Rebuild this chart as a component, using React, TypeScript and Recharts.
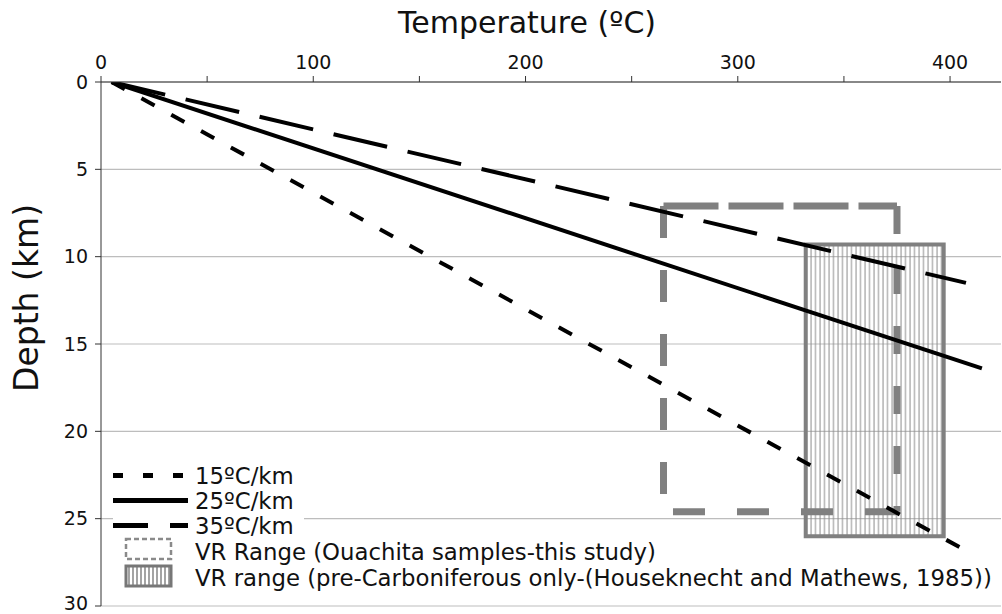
import React from "react";
import {
  ComposedChart,
  Line,
  XAxis,
  YAxis,
  CartesianGrid,
  ReferenceArea,
  ReferenceLine,
  Legend,
} from "recharts";

// geothermal gradients, all starting from a 5 ºC surface
const grad15 = [
  { t: 5, d: 0 },
  { t: 410, d: 27 },
];
const grad25 = [
  { t: 5, d: 0 },
  { t: 415, d: 16.4 },
];
const grad35 = [
  { t: 5, d: 0 },
  { t: 407.5, d: 11.5 },
];

const tempTicks = [0, 50, 100, 150, 200, 250, 300, 350, 400];
const depthTicks = [0, 5, 10, 15, 20, 25, 30];

// VR temperature/depth windows
const ouachitaRange = { tMin: 265, tMax: 375, dMin: 7.1, dMax: 24.6 };
const preCarbRange = { tMin: 332, tMax: 397, dMin: 9.3, dMax: 26 };

const lineNames = ["15ºC/km", "25ºC/km", "35ºC/km"];
const areaNames = [
  "VR Range (Ouachita samples-this study)",
  "VR range (pre-Carboniferous only-(Houseknecht and Mathews, 1985))",
];

const FONT = "'DejaVu Sans', Verdana, sans-serif";
const GRAY = "#808080";
const LEGEND_FS = 22.8;

const legendDash = ["10 20", undefined, "35 22"];

const ChartLegend = () => {
  const top = 450;
  return (
    <svg width={1002} height={150} style={{ overflow: "visible" }}>
      <rect x={113} y={462 - top} width={191} height={78} fill="#fff" />
      {lineNames.map((name, i) => {
        const y = 475.5 + i * 25 - top;
        return (
          <g key={name}>
            <line
              x1={113}
              x2={188}
              y1={y}
              y2={y}
              stroke="#000"
              strokeWidth={5}
              strokeDasharray={legendDash[i]}
            />
            <text
              x={195}
              y={y + 8}
              fontSize={LEGEND_FS}
              fontFamily={FONT}
              fill="#111"
            >
              {name}
            </text>
          </g>
        );
      })}
      <rect
        x={126}
        y={539 - top}
        width={45}
        height={20}
        fill="none"
        stroke="#8a8a8a"
        strokeWidth={2.5}
        strokeDasharray="5 3"
      />
      <text x={195} y={560 - top} fontSize={LEGEND_FS} fontFamily={FONT} fill="#111">
        {areaNames[0]}
      </text>
      <rect
        x={126}
        y={566 - top}
        width={45}
        height={20}
        fill="url(#vrHatchIcon)"
        stroke="#777"
        strokeWidth={3}
      />
      <text x={195} y={586 - top} fontSize={LEGEND_FS} fontFamily={FONT} fill="#111">
        {areaNames[1]}
      </text>
    </svg>
  );
};

const TempLabel = ({ viewBox }: any) => (
  <text
    x={viewBox.x + viewBox.width / 2 - 24}
    y={viewBox.y + 33}
    textAnchor="middle"
    fontSize={30}
    fontFamily={FONT}
    fill="#111"
  >
    Temperature (ºC)
  </text>
);

const DepthLabel = ({ viewBox }: any) => {
  const x = 38;
  const y = viewBox.y + 216;
  return (
    <text
      x={x}
      y={y}
      textAnchor="middle"
      fontSize={33}
      fontFamily={FONT}
      fill="#111"
      transform={`rotate(-90, ${x}, ${y})`}
    >
      Depth (km)
    </text>
  );
};

export default function App() {
  const r = ouachitaRange;
  return (
    <div style={{ width: 1002, height: 614 }}>
      <style>{"body{margin:0}"}</style>
      <svg width={0} height={0} style={{ position: "absolute" }}>
        <defs>
          <pattern
            id="vrHatch"
            patternUnits="userSpaceOnUse"
            width={4.5}
            height={10}
          >
            <line x1={1} y1={0} x2={1} y2={10} stroke="#8c8c8c" strokeWidth={1} />
          </pattern>
          <pattern
            id="vrHatchIcon"
            patternUnits="userSpaceOnUse"
            width={4}
            height={10}
          >
            <line x1={1} y1={0} x2={1} y2={10} stroke="#666" strokeWidth={1.2} />
          </pattern>
        </defs>
      </svg>
      <ComposedChart
        width={1002}
        height={614}
        margin={{ top: 0, right: 1, bottom: 8, left: 0 }}
      >
        <CartesianGrid vertical={false} stroke="#bdbdbd" strokeWidth={1.2} />
        <XAxis
          type="number"
          dataKey="t"
          orientation="top"
          domain={[0, 424]}
          ticks={tempTicks}
          tickFormatter={(v) => (v % 100 === 0 ? String(v) : "")}
          height={82}
          stroke="#333"
          tickSize={6}
          tickMargin={7}
          tick={{ fill: "#111", fontSize: 19, fontFamily: FONT }}
          allowDataOverflow
          label={<TempLabel />}
        />
        <YAxis
          type="number"
          dataKey="d"
          reversed
          domain={[0, 30]}
          ticks={depthTicks}
          width={101}
          stroke="#333"
          tickSize={6}
          tickMargin={7}
          tick={{ fill: "#111", fontSize: 19, fontFamily: FONT }}
          allowDataOverflow
          label={<DepthLabel />}
        />
        <ReferenceArea
          x1={preCarbRange.tMin}
          x2={preCarbRange.tMax}
          y1={preCarbRange.dMin}
          y2={preCarbRange.dMax}
          fill="url(#vrHatch)"
          fillOpacity={1}
          stroke={GRAY}
          strokeWidth={4}
        />
        <ReferenceLine
          segment={[
            { x: r.tMin, y: r.dMin },
            { x: r.tMax, y: r.dMin },
          ]}
          stroke={GRAY}
          strokeWidth={7}
          strokeDasharray="55 10"
        />
        <ReferenceLine
          segment={[
            { x: r.tMin, y: r.dMin },
            { x: r.tMin, y: r.dMax },
          ]}
          stroke={GRAY}
          strokeWidth={7}
          strokeDasharray="32 32"
        />
        <ReferenceLine
          segment={[
            { x: r.tMax, y: r.dMin },
            { x: r.tMax, y: r.dMax },
          ]}
          stroke={GRAY}
          strokeWidth={7}
          strokeDasharray="28 32"
        />
        <ReferenceLine
          segment={[
            { x: r.tMax, y: r.dMax },
            { x: r.tMin, y: r.dMax },
          ]}
          stroke={GRAY}
          strokeWidth={7}
          strokeDasharray="32 32"
        />
        <Line
          data={grad15}
          dataKey="d"
          name={lineNames[0]}
          stroke="#000"
          strokeWidth={4}
          strokeDasharray="15 19"
          dot={false}
          activeDot={false}
          isAnimationActive={false}
        />
        <Line
          data={grad25}
          dataKey="d"
          name={lineNames[1]}
          stroke="#000"
          strokeWidth={4}
          dot={false}
          activeDot={false}
          isAnimationActive={false}
        />
        <Line
          data={grad35}
          dataKey="d"
          name={lineNames[2]}
          stroke="#000"
          strokeWidth={4}
          strokeDasharray="55 21"
          dot={false}
          activeDot={false}
          isAnimationActive={false}
        />
        <Legend
          layout="vertical"
          align="center"
          verticalAlign="middle"
          content={<ChartLegend />}
          wrapperStyle={{ left: 0, top: 450, width: 1002, height: 150 }}
        />
      </ComposedChart>
    </div>
  );
}
